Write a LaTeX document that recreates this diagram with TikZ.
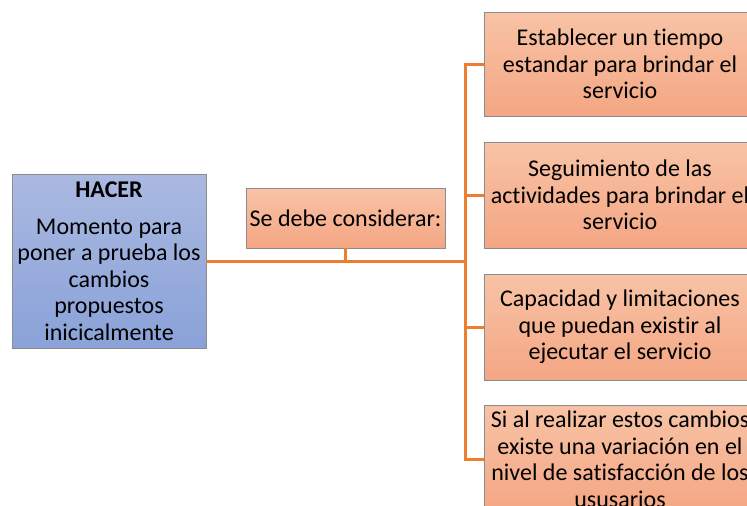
\documentclass[tikz,border=0pt]{standalone}
\usepackage{fontspec}
\setmainfont{Carlito}[Ligatures={NoCommon}]
\definecolor{naranja}{HTML}{ED7D31}
\definecolor{salmonA}{HTML}{F8C3A6}
\definecolor{salmonB}{HTML}{F4A683}
\definecolor{azulA}{HTML}{AAB9E1}
\definecolor{azulB}{HTML}{8AA2D8}
\definecolor{borde}{HTML}{8C8C8C}
\begin{document}
\begin{tikzpicture}[x=1pt, y=-1pt,
		caja/.style={draw=borde, line width=0.9pt, top color=salmonA, bottom color=salmonB, align=center, inner sep=0pt, font=\fontsize{24}{26.5}\selectfont},
		linea/.style={naranja, line width=3pt}]
		\useasboundingbox (0,0) rectangle (747,506);
		\clip (0,0) rectangle (747,506);

		\node[caja, top color=azulA, bottom color=azulB, minimum width=194pt, minimum height=174pt] (hacer) at (109,261)
			{\textbf{HACER}\\[10pt] Momento para\\ poner a prueba los\\ cambios\\ propuestos\\ inicicalmente};
		\node[caja, minimum width=199pt, minimum height=60pt] (cons) at (345.5,218) {Se debe considerar:};

		\node[caja, minimum width=272pt, minimum height=104pt] (t1) at (620,64) {Establecer un tiempo\\ estandar para brindar el\\ servicio};
		\node[caja, minimum width=272pt, minimum height=106pt] (t2) at (620,195) {Seguimiento de las\\ actividades para brindar el\\ servicio};
		\node[caja, minimum width=272pt, minimum height=106pt] (t3) at (620,327) {Capacidad y limitaciones\\ que puedan existir al\\ ejecutar el servicio};
		\node[caja, minimum width=272pt, minimum height=108pt] (t4) at (620,459) {Si al realizar estos cambios\\ existe una variación en el\\ nivel de satisfacción de los\\ ususarios};

		\coordinate (tronco) at (465,261);
		\draw[linea] (hacer.east) -- (tronco);
		\draw[linea] (cons.south) -- (cons.south |- tronco);
		\draw[linea] (t1.west) -- (t1.west -| tronco) -- (t4.west -| tronco) -- (t4.west);
		\draw[linea] (t2.west) -- (t2.west -| tronco);
		\draw[linea] (t3.west) -- (t3.west -| tronco);
	\end{tikzpicture}
\end{document}
